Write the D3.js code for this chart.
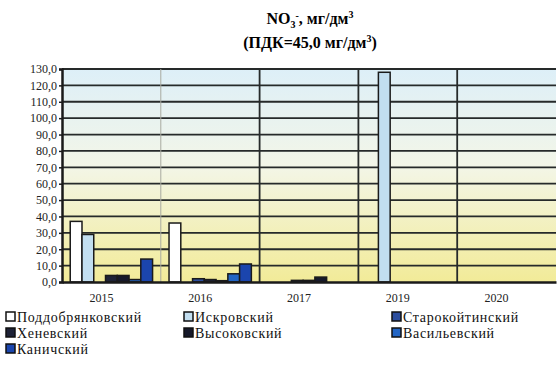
<!DOCTYPE html>
<html>
<head>
<meta charset="utf-8">
<script src="https://cdn.jsdelivr.net/npm/d3@7"></script>
<style>
  body { margin: 0; background: #fff; }
  svg { display: block; }
  text { font-family: "Liberation Serif", "DejaVu Serif", "Times New Roman", serif; }
</style>
</head>
<body>
<svg></svg>
<script>
var viewWidth = 559;
var viewHeight = 371;
var serif = "'Liberation Serif', 'DejaVu Serif', 'Times New Roman', serif";

// data
var years = ["2015", "2016", "2017", "2019", "2020"];
var series = ["Поддобрянковский", "Искровский", "Старокойтинский",
  "Хеневский", "Высоковский", "Васильевский", "Каничский"];
var colors = ["#ffffff", "#c2def0", "#2c4e9e", "#1e2236", "#16192a", "#2265c4", "#1b45ad"];
var values = [
  [37, 36, 0, 0, 0],      // Поддобрянковский
  [29, 0, 0, 128, 0],     // Искровский
  [0, 2, 1, 0, 0],        // Старокойтинский
  [4, 1.5, 1, 0, 0],      // Хеневский
  [4, 0.8, 3, 0, 0],      // Высоковский
  [1.5, 5, 0, 0, 0],      // Васильевский
  [14, 11, 0, 0, 0]       // Каничский
];
var yTicks = d3.range(0, 131, 10);

var margin = {top: 69, right: 3, bottom: 89, left: 62};
var width = viewWidth - margin.left - margin.right;
var height = viewHeight - margin.top - margin.bottom;

var svg = d3.select("svg")
  .attr("width", viewWidth)
  .attr("height", viewHeight);

var defs = svg.append("defs");
var grad = defs.append("linearGradient")
  .attr("id", "bg")
  .attr("x1", 0).attr("y1", 0).attr("x2", 0).attr("y2", 1);
grad.append("stop").attr("offset", "0%").attr("stop-color", "#ddeff8");
grad.append("stop").attr("offset", "45%").attr("stop-color", "#f3f6e8");
grad.append("stop").attr("offset", "100%").attr("stop-color", "#f2eb98");

// title
var title = svg.append("text")
  .attr("x", 310).attr("y", 24)
  .attr("text-anchor", "middle")
  .style("font-family", serif)
  .style("font-weight", "bold")
  .style("font-size", "16px");
title.append("tspan").text("NO");
title.append("tspan").attr("dy", 4).style("font-size", "10px").text("3");
title.append("tspan").attr("dy", -9).style("font-size", "10px").text("-");
title.append("tspan").attr("dy", 5).text(", мг/дм");
title.append("tspan").attr("dy", -6).style("font-size", "10px").text("3");

var title2 = svg.append("text")
  .attr("x", 310).attr("y", 48)
  .attr("text-anchor", "middle")
  .style("font-family", serif)
  .style("font-weight", "bold")
  .style("font-size", "16px");
title2.append("tspan").text("(ПДК=45,0 мг/дм");
title2.append("tspan").attr("dy", -6).style("font-size", "10px").text("3");
title2.append("tspan").attr("dy", 6).text(")");

var g = svg.append("g")
  .attr("transform", "translate(" + margin.left + "," + margin.top + ")");

var xScale = d3.scaleBand()
  .domain(years)
  .range([0, width]);
var xInner = d3.scaleBand()
  .domain(series)
  .range([0, xScale.bandwidth()])
  .paddingOuter(0.7);
var yScale = d3.scaleLinear()
  .domain([0, 130])
  .range([height, 0]);

g.append("rect")
  .attr("width", width)
  .attr("height", height)
  .attr("fill", "url(#bg)");

// horizontal grid
g.selectAll("line.h")
  .data(yTicks.slice(1))
  .enter()
  .append("line")
  .attr("class", "h")
  .attr("x1", 0).attr("x2", width)
  .attr("y1", function(d){ return yScale(d); })
  .attr("y2", function(d){ return yScale(d); })
  .attr("stroke", "#262a2a")
  .attr("stroke-width", 1.8);

// vertical grid at category boundaries
g.selectAll("line.v")
  .data(years.slice(1))
  .enter()
  .append("line")
  .attr("class", "v")
  .attr("x1", function(d){ return xScale(d); })
  .attr("x2", function(d){ return xScale(d); })
  .attr("y1", 0).attr("y2", height)
  .attr("stroke", function(d, i){ return i == 0 ? "#a8aaa0" : "#262a2a"; })
  .attr("stroke-width", function(d, i){ return i == 0 ? 1 : 1.8; });

// bars
var groups = g.selectAll("g.series")
  .data(series)
  .enter()
  .append("g")
  .attr("class", "series");

groups.each(function(s, si) {
  d3.select(this).selectAll("rect")
    .data(years.map(function(y, yi){ return {year: y, v: values[si][yi]}; })
      .filter(function(d){ return d.v > 0; }))
    .enter()
    .append("rect")
    .attr("x", function(d){ return xScale(d.year) + xInner(s); })
    .attr("width", xInner.bandwidth())
    .attr("y", function(d){ return yScale(d.v); })
    .attr("height", function(d){ return yScale(0) - yScale(d.v); })
    .attr("fill", colors[si])
    .attr("stroke", "#1a1a1a")
    .attr("stroke-width", 1.5);
});

// axes
var y_axis = d3.axisLeft(yScale)
  .tickValues(yTicks)
  .tickSize(3)
  .tickFormat(function(d){ return d3.format(".1f")(d).replace(".", ","); });
var yg = g.append("g").call(y_axis);
yg.attr("font-family", null);
yg.select(".domain").attr("stroke", "#1a1a1a").attr("stroke-width", 2.5);
yg.selectAll("line").attr("stroke", "#1a1a1a").attr("stroke-width", 1.5);
yg.selectAll("text")
  .attr("x", -5)
  .style("font-family", serif)
  .style("font-size", "12px")
  .attr("fill", "#222");

var x_axis = d3.axisBottom(xScale).tickSize(0);
var xg = g.append("g")
  .attr("transform", "translate(0," + height + ")")
  .call(x_axis);
xg.attr("font-family", null);
xg.select(".domain").attr("stroke", "#1a1a1a").attr("stroke-width", 2.5);
xg.selectAll("text")
  .attr("dx", -10)
  .attr("y", 11)
  .style("font-family", serif)
  .style("font-size", "12px")
  .attr("fill", "#222");

// legend
var legendX = [5, 183, 391];
var legend = svg.append("g");
series.forEach(function(s, i) {
  var col = i % 3, row = Math.floor(i / 3);
  var item = legend.append("g")
    .attr("transform", "translate(" + legendX[col] + "," + (322 + row * 16) + ")");
  item.append("rect")
    .attr("x", 1).attr("y", -10)
    .attr("width", 9).attr("height", 9)
    .attr("fill", colors[i])
    .attr("stroke", "#111")
    .attr("stroke-width", 1.5);
  item.append("text")
    .attr("x", 12).attr("y", 0)
    .style("font-family", serif)
    .style("font-size", "14px")
    .style("letter-spacing", "0.7px")
    .attr("fill", "#111")
    .text(s);
});
</script>
</body>
</html>
